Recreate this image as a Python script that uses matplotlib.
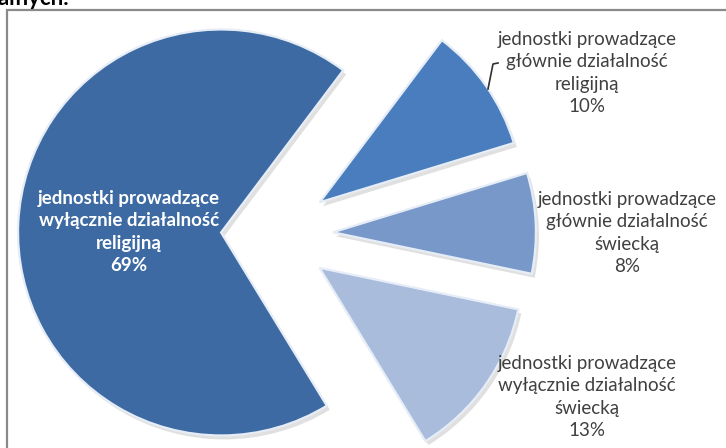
import matplotlib
matplotlib.use("Agg")
import matplotlib.pyplot as plt
from matplotlib.patches import Rectangle

# ---- data ----
categories = [
    "jednostki prowadzące\ngłównie działalność\nreligijną",
    "jednostki prowadzące\ngłównie działalność\nświecką",
    "jednostki prowadzące\nwyłącznie działalność\nświecką",
    "jednostki prowadzące\nwyłącznie działalność\nreligijną",
]
values = [10, 8, 13, 69]
pct_labels = ["10%", "8%", "13%", "69%"]
title_fragment = "ałnych."

colors = ["#4a7dbd", "#7898ca", "#a9bcdc", "#3d6aa3"]

W, H = 726, 448
fig = plt.figure(figsize=(W / 100, H / 100), dpi=100)
ax = fig.add_axes([0, 0, 1, 1])

def Y(py):
    return H - py

cx, cy, r = 273, Y(235), 203
explode = [57, 60, 57, 52]

# soft shadow
ax.pie(values, startangle=53, counterclock=False, center=(cx + 3, cy - 4),
       radius=r, explode=explode, colors=["#000000"] * 4,
       wedgeprops=dict(alpha=0.12, linewidth=0))
wedges, _ = ax.pie(values, startangle=53, counterclock=False, center=(cx, cy),
                   radius=r, explode=explode, colors=colors,
                   wedgeprops=dict(edgecolor="#e6edf7", linewidth=1.6))

ax.set_xlim(0, W)
ax.set_ylim(0, H)
ax.set_aspect("equal")
ax.axis("off")

# border of the chart area
ax.add_patch(Rectangle((7, -10), W + 20, Y(10) + 10, fill=False,
                       edgecolor="#8a8a8a", linewidth=1.6))

# cropped title fragment (cut off at the top, as in the source)
ax.text(-2, Y(5), title_fragment, fontsize=16, fontweight="bold",
        family="Lato", color="black", ha="left", va="baseline")

font = dict(family="Lato", fontsize=13.5, ha="center", va="center",
            linespacing=1.38)
label_pos = [(587, 73), (627, 233), (587, 397), (129, 232)]
for i, (lab, pct) in enumerate(zip(categories, pct_labels)):
    x, y = label_pos[i]
    if i == 3:
        ax.text(x, Y(y), lab + "\n" + pct, color="white", fontweight="bold", **font)
    else:
        ax.text(x, Y(y), lab + "\n" + pct, color="#404040", **font)

# leader line for the 10% label
ax.plot([488, 493, 498], [Y(89), Y(64), Y(63)], color="#303030", linewidth=1.2)

fig.savefig("out.png", dpi=100)
